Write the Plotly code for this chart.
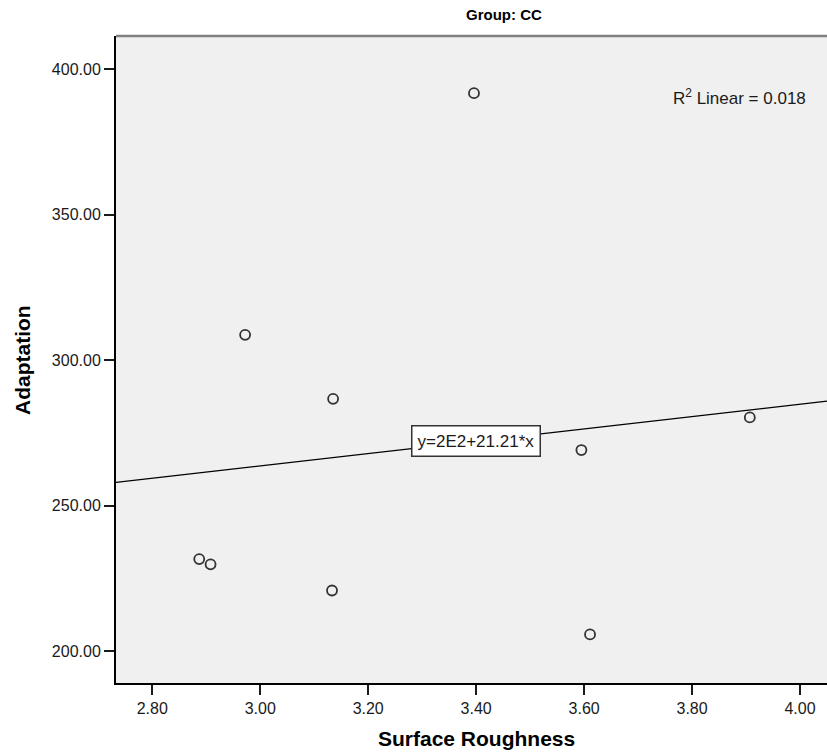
import plotly.graph_objects as go
import numpy as np

# ---- data ----
surface_roughness = [3.396, 2.972, 3.135, 3.595, 3.907, 2.887, 2.908, 3.133, 3.611]
adaptation = [391.8, 308.7, 286.7, 269.1, 280.3, 231.6, 229.8, 220.8, 205.7]
fit_intercept = 200.0
fit_slope = 21.21
x_ticks = [2.8, 3.0, 3.2, 3.4, 3.6, 3.8, 4.0]
y_ticks = [200, 250, 300, 350, 400]
group_title = "Group: CC"
x_title = "Surface Roughness"
y_title = "Adaptation"
r2_text = "R<sup>2</sup> Linear = 0.018"
eq_text = "y=2E2+21.21*x"

W, H = 827, 752
L, R, T, B = 116, 0, 36, 69
x_range = [2.7328, 4.05]
y_range = [189.0, 411.45]

pw = W - L - R
ph = H - T - B


def px_x(px):
    return (px - L) / pw


def px_y(py):
    return (H - B - py) / ph


fig = go.Figure()

fx = np.array(x_range)
fig.add_trace(go.Scatter(
    x=fx, y=fit_intercept + fit_slope * fx, mode="lines",
    line=dict(color="#000000", width=1.3), hoverinfo="skip", showlegend=False,
))

fig.add_trace(go.Scatter(
    x=surface_roughness, y=adaptation, mode="markers",
    marker=dict(symbol="circle-open", size=10, color="#333333",
                line=dict(width=1.8, color="#333333")),
    showlegend=False,
))

font = "Liberation Sans, Arial, sans-serif"

fig.update_layout(
    width=W, height=H,
    margin=dict(l=L, r=R, t=T, b=B, pad=0),
    paper_bgcolor="white",
    plot_bgcolor="#f0f0f0",
    font=dict(family=font, size=16, color="#1a1a1a"),
    xaxis=dict(
        range=x_range, tickvals=x_ticks, tickformat=".2f",
        showgrid=False, zeroline=False,
        showline=True, linecolor="#000000", linewidth=2,
        ticks="outside", ticklen=10, tickwidth=2, tickcolor="#1a1a1a",
        tickfont=dict(size=16, family=font),
    ),
    yaxis=dict(
        range=y_range, tickvals=y_ticks, tickformat=".2f",
        showgrid=False, zeroline=False,
        showline=True, linecolor="#000000", linewidth=2,
        ticks="outside", ticklen=10, tickwidth=2, tickcolor="#1a1a1a",
        tickfont=dict(size=16, family=font),
    ),
    shapes=[dict(type="line", xref="paper", yref="paper", x0=0, x1=1, y0=1, y1=1,
                 line=dict(color="#808080", width=2.5))],
    annotations=[
        dict(text="<b>" + group_title + "</b>", xref="paper", yref="paper",
             x=px_x(504), y=px_y(14), showarrow=False, xanchor="center", yanchor="middle",
             font=dict(size=15, family=font, color="#000000")),
        dict(text="<b>" + x_title + "</b>", xref="paper", yref="paper",
             x=px_x(476), y=px_y(738), showarrow=False, xanchor="center", yanchor="middle",
             font=dict(size=21, family=font, color="#000000")),
        dict(text="<b>" + y_title + "</b>", xref="paper", yref="paper",
             x=px_x(22), y=px_y(360), showarrow=False, xanchor="center", yanchor="middle",
             textangle=-90, font=dict(size=21, family=font, color="#000000")),
        dict(text=r2_text, xref="paper", yref="paper",
             x=px_x(739), y=px_y(97), showarrow=False, xanchor="center", yanchor="middle",
             font=dict(size=17, family=font, color="#1a1a1a")),
        dict(text=eq_text, xref="x", yref="y",
             x=3.40, y=272.2, showarrow=False, xanchor="center", yanchor="middle",
             bgcolor="white", bordercolor="#333333", borderwidth=1.5, borderpad=5,
             font=dict(size=17, family=font, color="#1a1a1a")),
    ],
)

fig.write_html("out.html")
